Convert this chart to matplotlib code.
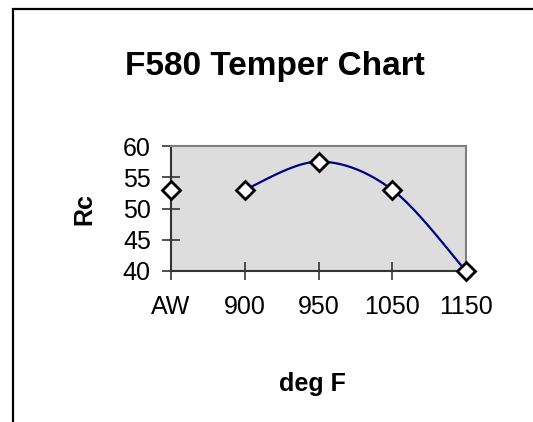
import numpy as np
import matplotlib
matplotlib.use("Agg")
import matplotlib.pyplot as plt
from matplotlib.patches import Rectangle

plt.rcParams['font.family'] = ['Liberation Sans', 'DejaVu Sans']

# data
temps = ["AW", "900", "950", "1050", "1150"]
rc = [53, 53, 57.5, 53, 40]
y_ticks = [40, 45, 50, 55, 60]


def smooth(xs, ys, n=40):
    # catmull-rom like excel smoothed line
    px = [xs[0]] + list(xs) + [xs[-1]]
    py = [ys[0]] + list(ys) + [ys[-1]]
    outx, outy = [], []
    t = np.linspace(0, 1, n)
    for i in range(1, len(px) - 2):
        p0, p1, p2, p3 = [np.array([px[j], py[j]]) for j in range(i - 1, i + 3)]
        c1 = p1 + (p2 - p0) / 6
        c2 = p2 - (p3 - p1) / 6
        pts = ((1 - t) ** 3)[:, None] * p1 + (3 * (1 - t) ** 2 * t)[:, None] * c1 \
            + (3 * (1 - t) * t ** 2)[:, None] * c2 + (t ** 3)[:, None] * p2
        outx += list(pts[:, 0])
        outy += list(pts[:, 1])
    return outx, outy


fig = plt.figure(figsize=(5.33, 4.22), dpi=100)
fig.patch.set_facecolor('white')

# outer chart border (only left/top visible)
fig.add_artist(Rectangle((13 / 533, -0.1), 1.2, 1 - 9 / 422 + 0.1,
                         transform=fig.transFigure, fill=False,
                         edgecolor='black', linewidth=1.6))

ax = fig.add_axes([171 / 533, 1 - 271 / 422, (466 - 171) / 533, (271 - 146) / 422])
ax.set_facecolor('#dddddd')

x = np.arange(len(temps))
sx, sy = smooth(x[1:], rc[1:])
ax.plot(sx, sy, color='#000080', linewidth=1.6, zorder=3)
ax.plot(x, rc, linestyle='None', marker='D', markersize=9.5,
        markerfacecolor='white', markeredgecolor='black', markeredgewidth=2,
        clip_on=False, zorder=4)

ax.set_xlim(0, len(temps) - 1)
ax.set_ylim(40, 60)
ax.set_xticks(x)
ax.set_xticklabels(temps)
ax.set_yticks(y_ticks)

for s in ['top', 'right']:
    ax.spines[s].set_color('#808080')
    ax.spines[s].set_linewidth(1.5)
for s in ['left', 'bottom']:
    ax.spines[s].set_color('#333333')
    ax.spines[s].set_linewidth(1.5)

ax.tick_params(axis='both', direction='inout', length=13, width=1.2,
               color='#333333', labelsize=18)
ax.tick_params(axis='x', pad=11)
ax.tick_params(axis='y', pad=8)

fig.text(275 / 533, 1 - 66 / 422, "F580 Temper Chart", ha='center', va='center',
         fontsize=24, fontweight='bold')
fig.text(312 / 533, 1 - 384 / 422, "deg F", ha='center', va='center',
         fontsize=18, fontweight='bold')
fig.text(84 / 533, 1 - 209 / 422, "Rc", ha='center', va='center',
         fontsize=18, fontweight='bold', rotation=90)

fig.savefig("out.png", dpi=100)
